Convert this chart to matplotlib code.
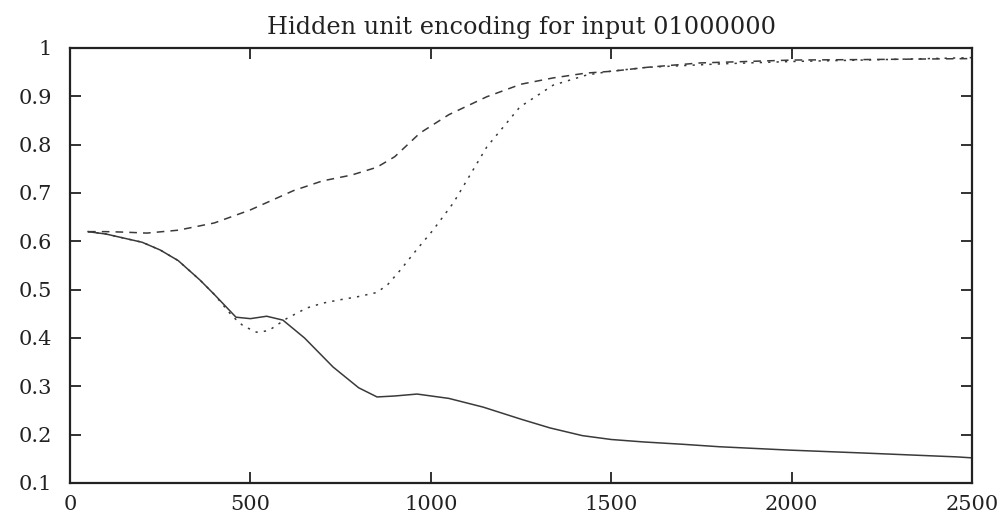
import matplotlib

matplotlib.use("Agg")
import matplotlib.pyplot as plt

# solid curve
solid_x = [50, 100, 200, 250, 300, 360, 400, 460, 500, 545, 590, 650, 729, 800, 851,
           900, 962, 1050, 1145, 1250, 1330, 1420, 1500, 1588, 1700, 1800, 1995, 2200,
           2458, 2500]
solid_y = [0.62, 0.615, 0.598, 0.582, 0.56, 0.52, 0.49, 0.443, 0.44, 0.445, 0.437, 0.40,
           0.34, 0.297, 0.278, 0.280, 0.284, 0.275, 0.257, 0.232, 0.214, 0.198, 0.19,
           0.185, 0.18, 0.175, 0.168, 0.162, 0.154, 0.152]

# upper dashed curve
dash_x = [50, 100, 150, 213, 300, 400, 500, 563, 620, 700, 780, 850, 900, 970, 1050,
          1155, 1250, 1339, 1430, 1505, 1600, 1746, 2004, 2200, 2500]
dash_y = [0.62, 0.62, 0.619, 0.617, 0.623, 0.638, 0.665, 0.686, 0.705, 0.725, 0.737,
          0.753, 0.775, 0.824, 0.862, 0.899, 0.925, 0.938, 0.948, 0.952, 0.96, 0.969,
          0.975, 0.976, 0.978]

# dotted curve (dip then rise)
dot_x = [50, 100, 200, 250, 300, 360, 400, 450, 480, 517, 550, 600, 656, 700, 748, 795,
         850, 880, 915, 960, 1006, 1063, 1155, 1247, 1339, 1432, 1500, 1600, 1800, 2000,
         2200, 2500]
dot_y = [0.62, 0.615, 0.598, 0.582, 0.56, 0.52, 0.49, 0.445, 0.425, 0.412, 0.415, 0.44,
         0.462, 0.472, 0.479, 0.485, 0.494, 0.51, 0.54, 0.582, 0.623, 0.68, 0.795, 0.878,
         0.923, 0.944, 0.952, 0.96, 0.967, 0.972, 0.975, 0.98]

x_ticks = [0, 500, 1000, 1500, 2000, 2500]
y_ticks = [0.1, 0.2, 0.3, 0.4, 0.5, 0.6, 0.7, 0.8, 0.9, 1.0]
y_labels = ["0.1", "0.2", "0.3", "0.4", "0.5", "0.6", "0.7", "0.8", "0.9", "1"]

plt.rcParams["font.family"] = ["DejaVu Serif"]

fig = plt.figure(figsize=(10.06, 5.27), dpi=100)
ax = fig.add_axes([0.0696, 0.0835, 0.8966, 0.8255])

line_color = "#3a3a3a"
ax.plot(solid_x, solid_y, color=line_color, lw=1.1, linestyle="-")
ax.plot(dash_x, dash_y, color=line_color, lw=1.1, linestyle=(0, (5, 4)))
ax.plot(dot_x, dot_y, color=line_color, lw=1.1, linestyle=(0, (1.5, 4)))

ax.set_xlim(0, 2500)
ax.set_ylim(0.1, 1.0)
ax.set_xticks(x_ticks)
ax.set_yticks(y_ticks)
ax.set_yticklabels(y_labels)
ax.tick_params(direction="in", length=8, width=1.3, top=True, right=True,
               labelsize=15, colors="#222222")
ax.tick_params(axis="x", pad=9)
ax.tick_params(axis="y", pad=13)
for s in ax.spines.values():
    s.set_linewidth(1.6)
    s.set_color("#222222")

ax.set_title("Hidden unit encoding for input 01000000", fontsize=17.3,
             color="#222222", pad=10)

fig.savefig("out.png", dpi=100)
